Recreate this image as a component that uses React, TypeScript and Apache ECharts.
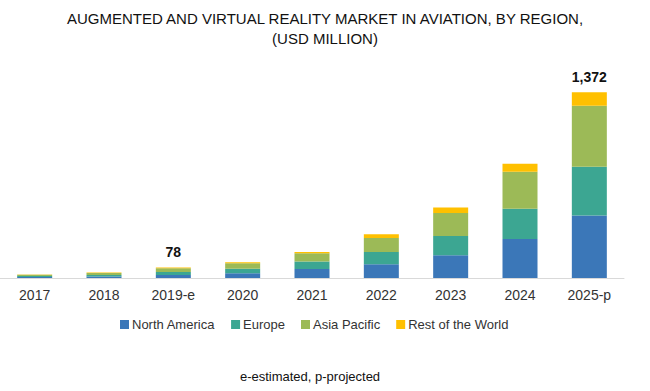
import React, { useEffect, useRef } from "react";
import * as echarts from "echarts";

const categories = ["2017", "2018", "2019-e", "2020", "2021", "2022", "2023", "2024", "2025-p"];
const northAmerica = [8, 12, 23, 35, 67, 101, 168, 289, 462];
const europe = [7, 11, 22, 34, 54, 91, 143, 222, 360];
const asiaPacific = [9, 14, 27, 40, 62, 104, 170, 274, 451];
const restOfWorld = [2, 3, 6, 7, 10, 27, 40, 59, 99];
const totalLabels: Record<number, string> = { 2: "78", 8: "1,372" };

const seriesNames = ["North America", "Europe", "Asia Pacific", "Rest of the World"];
const colors = ["#3b77b8", "#3ca692", "#9cba57", "#ffc000"];

export default function App() {
  const ref = useRef<HTMLDivElement>(null);
  useEffect(() => {
    if (!ref.current) return;
    const chart = echarts.init(ref.current, null, { renderer: "svg" });
    const dataSets = [northAmerica, europe, asiaPacific, restOfWorld];
    chart.setOption({
      animation: false,
      title: {
        text: "AUGMENTED AND VIRTUAL REALITY MARKET IN AVIATION, BY REGION,\n(USD MILLION)",
        left: "center",
        top: 3,
        textStyle: {
          fontFamily: "'Liberation Sans Narrow', 'Liberation Sans', Arial, sans-serif",
          fontWeight: "normal",
          fontSize: 15,
          lineHeight: 20,
          color: "#111",
        },
      },
      grid: { left: -3, width: 627, top: 75, bottom: 113 },
      legend: {
        data: seriesNames,
        bottom: 55,
        left: 115,
        itemWidth: 9,
        itemHeight: 9,
        itemGap: 16,
        icon: "rect",
        textStyle: { fontFamily: "'Liberation Sans', Arial, sans-serif", fontSize: 13, color: "#333", padding: [0, 0, 0, -2] },
      },
      xAxis: {
        type: "category",
        data: categories,
        axisLine: { lineStyle: { color: "#d9d9d9" } },
        axisTick: { show: false },
        axisLabel: {
          margin: 10,
          fontFamily: "'Liberation Sans', Arial, sans-serif",
          fontSize: 14,
          color: "#333",
        },
      },
      yAxis: {
        type: "value",
        min: 0,
        max: 1500,
        show: false,
        splitLine: { show: false },
      },
      series: dataSets.map((d, i) => ({
        name: seriesNames[i],
        type: "bar",
        stack: "total",
        barWidth: 35,
        itemStyle: { color: colors[i] },
        data:
          i === 3
            ? d.map((v, j) =>
                totalLabels[j]
                  ? {
                      value: v,
                      label: {
                        show: true,
                        position: "top",
                        distance: 8,
                        formatter: totalLabels[j],
                        fontFamily: "'Liberation Sans', Arial, sans-serif",
                        fontWeight: "bold",
                        fontSize: 14,
                        color: "#111",
                      },
                    }
                  : v
              )
            : d,
      })),
      graphic: [
        {
          type: "text",
          x: 310,
          y: 370,
          style: {
            text: "e-estimated, p-projected",
            align: "center",
            fontFamily: "'Liberation Sans', Arial, sans-serif",
            fontSize: 13,
            fill: "#111",
          },
        },
      ],
    });
    return () => chart.dispose();
  }, []);
  return <div ref={ref} style={{ width: 650, height: 391, position: "absolute", left: 0, top: 0 }} />;
}
